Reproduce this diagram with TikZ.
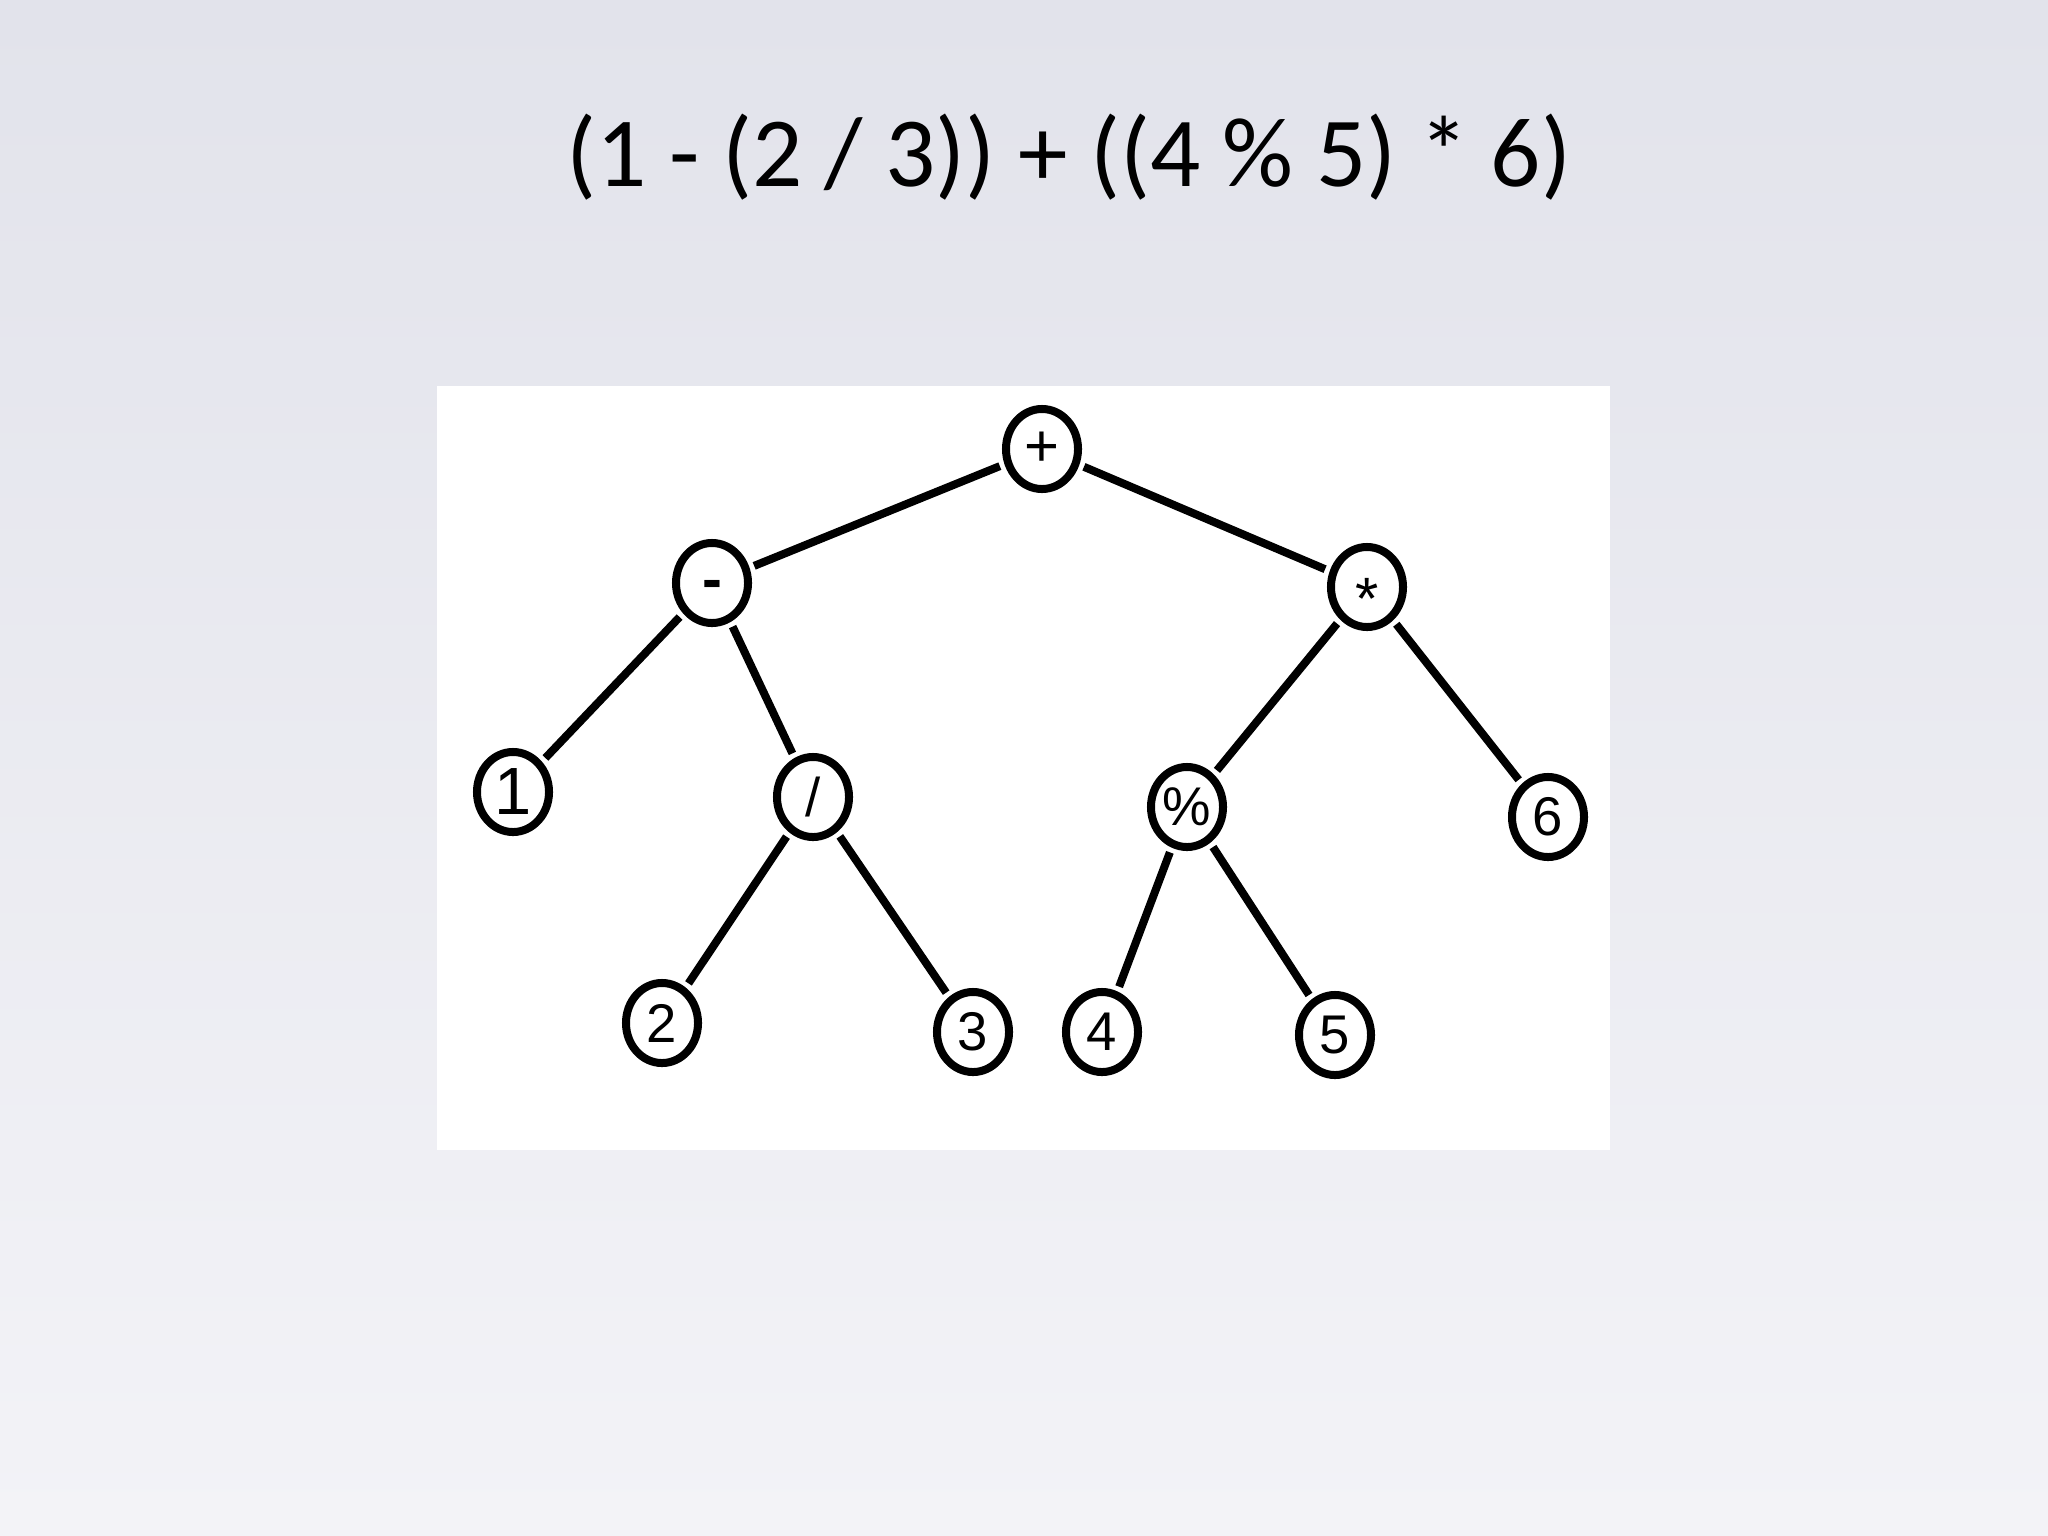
\documentclass[tikz,border=0pt]{standalone}
\usepackage{fontspec}
\setmainfont{Carlito}
\newfontfamily\helv{Liberation Sans}
\usetikzlibrary{shapes.geometric}
\definecolor{bgtop}{RGB}{226,227,235}
\definecolor{bgbot}{RGB}{243,243,247}
\tikzset{
  tnode/.style={ellipse, draw=black, line width=0.08cm, fill=white,
    minimum width=0.72cm, minimum height=0.80cm, inner sep=0pt,
    outer sep=0.09cm, font=\helv\fontsize{15.5}{15.5}\selectfont},
  tedge/.style={line width=0.08cm, line cap=butt},
  title/.style={font=\fontsize{28.2}{30}\selectfont, anchor=base}
}
\begin{document}
\begin{tikzpicture}[x=0.01cm, y=-0.01cm]
\useasboundingbox (0,0) rectangle (2048,1536);
\shade[top color=bgtop, bottom color=bgbot] (0,0) rectangle (2048,1536);
\fill[white] (437,386) rectangle (1610,1150);
\node[title] (t) at (1069,186) {(1 - (2 / 3)) + ((4 \% 5) * 6)};
\node[tnode, font=\helv\fontsize{17}{17}\selectfont] (plus) at (1042,449) {+};
\node[tnode, font=\helv\bfseries\fontsize{17}{17}\selectfont, text height=0.33cm, text depth=0cm] (minus) at (712,583) {-};
\node[tnode, font=\helv\fontsize{17}{17}\selectfont] (times) at (1367,587) {\raisebox{-0.32cm}[0.15cm][0.15cm]{*}};
\node[tnode, font=\helv\fontsize{19}{19}\selectfont] (n1) at (513,792) {1};
\node[tnode] (div) at (813,797) {/};
\node[tnode] (mod) at (1187,807) {\%};
\node[tnode] (n6) at (1548,817) {6};
\node[tnode] (n2) at (662,1023) {2};
\node[tnode] (n3) at (973,1032) {3};
\node[tnode] (n4) at (1102,1032) {4};
\node[tnode] (n5) at (1335,1035) {5};
\draw[tedge] (plus) -- (minus);
\draw[tedge] (plus) -- (times);
\draw[tedge] (minus) -- (n1);
\draw[tedge] (minus) -- (div);
\draw[tedge] (div) -- (n2);
\draw[tedge] (div) -- (n3);
\draw[tedge] (times) -- (mod);
\draw[tedge] (times) -- (n6);
\draw[tedge] (mod) -- (n4);
\draw[tedge] (mod) -- (n5);
\end{tikzpicture}
\end{document}
